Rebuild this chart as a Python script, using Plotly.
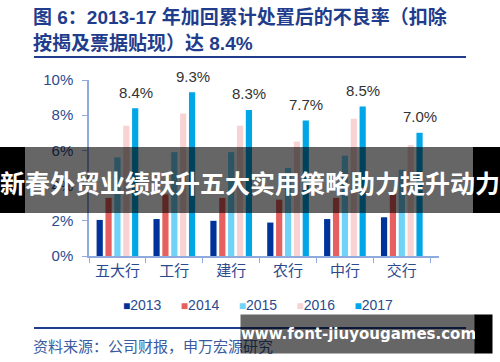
import plotly.graph_objects as go

categories = ["五大行", "工行", "建行", "农行", "中行", "交行"]
years = ["2013", "2014", "2015", "2016", "2017"]
v2013 = [2.05, 2.1, 2.0, 1.9, 2.1, 2.2]
v2014 = [3.3, 3.5, 3.3, 3.2, 3.3, 3.6]
v2015 = [5.6, 5.9, 5.9, 5.0, 5.7, 4.9]
v2016 = [7.4, 8.1, 7.4, 6.5, 7.8, 6.3]
v2017 = [8.4, 9.3, 8.3, 7.7, 8.5, 7.0]
yticks = [0, 2, 4, 6, 8, 10]
ytick_labels = ["0%", "2%", "4%", "6%", "8%", "10%"]

title_l1 = "图 6：2013-17 年加回累计处置后的不良率（扣除"
title_l2 = "按揭及票据贴现）达 8.4%"
source = "资料来源：公司财报，申万宏源研究"
banner = "新春外贸业绩跃升五大实用策略助力提升动力"
watermark = "www.font-jiuyougames.com"

colors = ["#003399", "#E5605E", "#6FD3F8", "#F8D3D3", "#00A6E6"]
series = [v2013, v2014, v2015, v2016, v2017]

FONT = "Liberation Sans, Arial, Noto Sans CJK SC"
NAVY = "#2B4A8E"
TITLE = "#1F3D8C"

fig = go.Figure()
for name, vals, col in zip(years, series, colors):
    fig.add_trace(go.Bar(x=categories, y=vals, name=name, marker_color=col,
                         marker_line_width=0, hoverinfo="skip"))

W, H = 500, 362
L, R, T, B = 89, 61, 80, 106
pw, ph = W - L - R, H - T - B
BARGAP, GROUPGAP = 0.22, 0.3

def px(x):
    return (x - L) / pw

def py(y):
    return (H - B - y) / ph

fig.update_layout(
    width=W, height=H, margin=dict(l=L, r=R, t=T, b=B, autoexpand=False),
    paper_bgcolor="white", plot_bgcolor="white",
    barmode="group", bargap=BARGAP, bargroupgap=GROUPGAP,
    font=dict(family=FONT, color=NAVY),
    showlegend=False,
    xaxis=dict(showline=True, linecolor="#8FAADC", linewidth=1.5, ticks="outside",
               tickson="boundaries", ticklen=5, tickcolor="#8FAADC", automargin=False,
               tickfont=dict(size=15, color=NAVY, family="Noto Sans CJK SC"),
               showgrid=False, fixedrange=True),
    yaxis=dict(range=[0, 10], tickvals=yticks, ticktext=ytick_labels, showline=True,
               linecolor="#8FAADC", linewidth=1.5, ticks="outside", ticklen=5,
               tickcolor="#8FAADC", tickfont=dict(size=15, color=NAVY, family=FONT),
               ticklabelstandoff=6, automargin=False,
               showgrid=False, zeroline=False, fixedrange=True),
)

shapes = [
    dict(type="line", xref="paper", yref="paper", x0=px(34), x1=px(466), y0=py(57), y1=py(57),
         line=dict(color=TITLE, width=2)),
    dict(type="line", xref="paper", yref="paper", x0=px(34), x1=px(466), y0=py(328), y1=py(328),
         line=dict(color=TITLE, width=2)),
    dict(type="rect", xref="paper", yref="paper", x0=px(0), x1=px(25), y0=py(213), y1=py(147),
         fillcolor="black", line_width=0, layer="above"),
    dict(type="rect", xref="paper", yref="paper", x0=px(25), x1=px(473), y0=py(213), y1=py(147),
         fillcolor="rgba(0,0,0,0.6)", line_width=0, layer="above"),
    dict(type="rect", xref="paper", yref="paper", x0=px(473), x1=px(500), y0=py(213), y1=py(147),
         fillcolor="black", line_width=0, layer="above"),
]
fig.update_layout(shapes=shapes)

# value labels above the 2017 bars (offset of the 5th bar within its group)
slot = (1 - BARGAP) / len(years)
shift_px = 2 * slot * pw / len(categories)
ann = []
for c, v in zip(categories, v2017):
    ann.append(dict(text=f"{v:.1f}%", x=c, y=v, xref="x", yref="y", xshift=shift_px,
                    yshift=16, yanchor="middle", showarrow=False,
                    font=dict(size=15, color="#333333", family=FONT)))

# legend as coloured squares + year text
nb = "\u00a0"
legend_txt = (nb * 5).join(
    f"<span style='color:{c};font-size:12px'>■</span>{y}" for y, c in zip(years, colors))

ann2 = [
    dict(text=legend_txt, x=px(258), y=py(305), xanchor="center", yanchor="middle",
         font=dict(size=14, color=NAVY, family=FONT)),
    dict(text=f"<b>{title_l1}</b>", x=px(31), y=py(17), xanchor="left", yanchor="middle",
         font=dict(size=19, color=TITLE, family=FONT)),
    dict(text=f"<b>{title_l2}</b>", x=px(31), y=py(43), xanchor="left", yanchor="middle",
         font=dict(size=19, color=TITLE, family=FONT)),
    dict(text=source, x=px(31), y=py(345), xanchor="left", yanchor="middle",
         font=dict(size=15, color="#3A5BA0", family="Noto Sans CJK SC")),
    dict(text=f"<b>{banner}</b>", x=px(250), y=py(182), xanchor="center", yanchor="middle",
         font=dict(size=25, color="white", family="Noto Sans CJK SC")),
    dict(text="", x=px(474), y=py(334), xanchor="left", yanchor="middle", width=17, height=38,
         bgcolor="black", borderpad=0),
    dict(text=f"<b>{watermark}</b>", x=px(240), y=py(334), xanchor="left", yanchor="middle",
         width=234, height=38, bgcolor="rgba(0,0,0,0.6)", borderpad=0, align="left",
         font=dict(size=15, color="white", family="DejaVu Sans")),
]
for a in ann2:
    a.update(xref="paper", yref="paper", showarrow=False)
fig.update_layout(annotations=ann + ann2)

fig.write_html("out.html", config={"displayModeBar": False},
               post_script="document.body.style.margin='0';")
